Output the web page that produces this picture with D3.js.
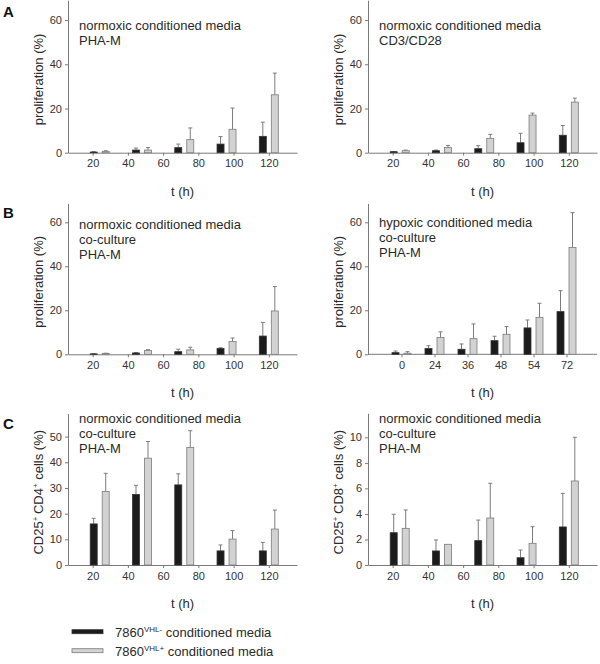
<!DOCTYPE html>
<html><head><meta charset="utf-8">
<script src="https://cdn.jsdelivr.net/npm/d3@7"></script>
<style>body{margin:0;background:#fff}svg{display:block;font-family:"Liberation Sans",Arial,sans-serif}</style>
</head><body><svg id="c" width="600" height="664"></svg>
<script>
// ---- data ----
const timesH = [24, 48, 72, 96, 120];
const xTicksH = [20, 40, 60, 80, 100, 120];
const hypoxCats = ["0", "24", "36", "48", "54", "72"];
const yTicksProlif = [0, 20, 40, 60];
const yTicksCD4 = [0, 10, 20, 30, 40, 50];
const yTicksCD8 = [0, 2, 4, 6, 8, 10];

const a1Neg = [0.3, 1.2, 2.3, 3.9, 7.4];
const a1NegErr = [0.2, 0.9, 1.6, 3.4, 6.4];
const a1Pos = [0.6, 1.2, 5.9, 10.6, 26.2];
const a1PosErr = [0.3, 1.1, 5.3, 9.6, 9.8];

const a2Neg = [0.45, 0.9, 1.8, 4.5, 7.9];
const a2NegErr = [0.1, 0.3, 1.4, 4.3, 4.4];
const a2Pos = [0.9, 2.4, 6.5, 17.0, 22.9];
const a2PosErr = [0.3, 0.9, 1.8, 0.9, 1.8];

const b1Neg = [0.2, 0.6, 1.2, 2.6, 8.3];
const b1NegErr = [0.1, 0.2, 1.1, 0.4, 6.2];
const b1Pos = [0.4, 1.7, 2.0, 5.8, 19.7];
const b1PosErr = [0.1, 0.4, 1.2, 1.6, 11.1];

const b2Neg = [0.75, 2.6, 2.3, 6.2, 12.0, 19.4];
const b2NegErr = [0.75, 1.3, 2.4, 2.0, 3.6, 9.5];
const b2Pos = [0.5, 7.6, 7.1, 9.1, 16.8, 48.6];
const b2PosErr = [0.7, 2.6, 6.7, 3.5, 6.4, 15.8];

const c1Neg = [16.0, 27.5, 31.2, 5.5, 5.5];
const c1NegErr = [2.2, 3.5, 4.3, 2.3, 3.3];
const c1Pos = [28.6, 41.6, 45.8, 10.1, 14.0];
const c1PosErr = [7.1, 6.5, 6.5, 3.3, 7.4];

const c2Neg = [2.53, 1.10, 1.91, 0.57, 2.98];
const c2NegErr = [1.44, 0.86, 1.61, 0.6, 2.63];
const c2Pos = [2.87, 1.62, 3.68, 1.70, 6.58];
const c2PosErr = [1.44, 0, 2.72, 1.3, 3.42];

const legendLabels = [["7860", "VHL-", " conditioned media"], ["7860", "VHL+", " conditioned media"]];

// ---- drawing ----
const svg = d3.select("#c");
const NEG_FILL = "#1b1b1b", NEG_STROKE = "#333", POS_FILL = "#d2d2d2", POS_STROKE = "#7c7c7c";
const AXIS_COL = "#7a7a7a", ERR_COL = "#7c7c7c", TXT = "#2a2a2a";

function richText(sel, parts) {
  // parts: [text, isSuperscript]
  let raised = false;
  parts.forEach(([s, sup]) => {
    const ts = sel.append("tspan").text(s);
    if (sup && !raised) { ts.attr("dy", -5).style("font-size", "8px"); raised = true; }
    else if (sup) { ts.style("font-size", "8px"); }
    else if (raised) { ts.attr("dy", 5); raised = false; }
  });
}

function panel(o) {
  const g = svg.append("g");
  const y = d3.scaleLinear().domain([0, o.yMax]).range([o.y0, o.yTop]);
  let x, xs;
  if (o.cats) {
    x = d3.scalePoint().domain(o.cats).range([o.x0 + 33.5, o.x1 - 30.5]);
    xs = o.cats;
  } else {
    x = d3.scaleLinear().domain([6, 136]).range([o.x0, o.x1]);
    xs = timesH;
  }
  const ya = g.append("g").attr("transform", `translate(${o.x0},0)`)
    .call(d3.axisLeft(y).tickValues(o.yTicks).tickSize(3).tickSizeOuter(0).tickPadding(3));
  const xa = g.append("g").attr("transform", `translate(0,${o.y0})`)
    .call((o.cats ? d3.axisBottom(x) : d3.axisBottom(x).tickValues(xTicksH)).tickSize(3).tickSizeOuter(0).tickPadding(4));
  if (o.cats) xa.select(".domain").attr("d", `M${o.x0},0H${o.x1}`);
  [ya, xa].forEach(a => {
    a.select(".domain").attr("stroke", AXIS_COL);
    a.selectAll(".tick line").attr("stroke", AXIS_COL);
    a.selectAll(".tick text").attr("fill", "#333").style("font-size", "11px").style("font-family", "Liberation Sans, Arial, sans-serif");
  });
  const bw = 7, off = 6;
  const series = [[o.neg, o.negErr, -off, NEG_FILL, NEG_STROKE], [o.pos, o.posErr, off, POS_FILL, POS_STROKE]];
  series.forEach(([vals, errs, dx, fill, stroke]) => {
    vals.forEach((v, i) => {
      const cx = x(xs[i]) + dx;
      const top = y(v);
      const et = y(v + errs[i]);
      if (errs[i] > 0) {
        g.append("line").attr("x1", cx).attr("x2", cx).attr("y1", top).attr("y2", et).attr("stroke", ERR_COL).attr("stroke-width", 1);
        g.append("line").attr("x1", cx - 2).attr("x2", cx + 2).attr("y1", et).attr("y2", et).attr("stroke", ERR_COL).attr("stroke-width", 1);
      }
      g.append("rect").attr("x", cx - bw / 2).attr("y", top).attr("width", bw).attr("height", Math.max(0.01, o.y0 - top))
        .attr("fill", fill).attr("stroke", stroke).attr("stroke-width", 0.8);
    });
  });
  const t = g.append("text").attr("fill", TXT).style("font-size", "13px");
  o.lines.forEach((l, i) => t.append("tspan").attr("x", o.x0 + 11).attr("y", o.textY + i * 15).text(l));
  const yl = g.append("text").attr("fill", TXT).style("font-size", "13px").attr("text-anchor", "middle")
    .attr("transform", `translate(${o.x0 - 25},${(o.y0 + o.yTop) / 2 + 3}) rotate(-90)`);
  richText(yl, o.ylabel);
  g.append("text").attr("fill", TXT).style("font-size", "13px").attr("text-anchor", "middle")
    .attr("x", (o.x0 + o.x1) / 2).attr("y", o.y0 + 43).text("t (h)");
}

const prolif = [["proliferation (%)", false]];
panel({x0: 68, x1: 297, y0: 152.7, yTop: 0.2, yMax: 69, yTicks: yTicksProlif, neg: a1Neg, negErr: a1NegErr, pos: a1Pos, posErr: a1PosErr,
  lines: ["normoxic conditioned media", "PHA-M"], textY: 30, ylabel: prolif});
panel({x0: 368, x1: 597, y0: 152.7, yTop: 0.2, yMax: 69, yTicks: yTicksProlif, neg: a2Neg, negErr: a2NegErr, pos: a2Pos, posErr: a2PosErr,
  lines: ["normoxic conditioned media", "CD3/CD28"], textY: 30, ylabel: prolif});
panel({x0: 68, x1: 297, y0: 354.3, yTop: 203.4, yMax: 68.6, yTicks: yTicksProlif, neg: b1Neg, negErr: b1NegErr, pos: b1Pos, posErr: b1PosErr,
  lines: ["normoxic conditioned media", "co-culture", "PHA-M"], textY: 229, ylabel: prolif});
panel({x0: 368, x1: 597, y0: 354.3, yTop: 203.4, yMax: 68.6, yTicks: yTicksProlif, cats: hypoxCats, neg: b2Neg, negErr: b2NegErr, pos: b2Pos, posErr: b2PosErr,
  lines: ["hypoxic conditioned media", "co-culture", "PHA-M"], textY: 227, ylabel: prolif});
panel({x0: 68, x1: 297, y0: 565, yTop: 413.5, yMax: 59, yTicks: yTicksCD4, neg: c1Neg, negErr: c1NegErr, pos: c1Pos, posErr: c1PosErr,
  lines: ["normoxic conditioned media", "co-culture", "PHA-M"], textY: 423,
  ylabel: [["CD25", false], ["+", true], ["\u2009CD4", false], ["+", true], [" cells (%)", false]]});
panel({x0: 368, x1: 597, y0: 565, yTop: 413.3, yMax: 11.88, yTicks: yTicksCD8, neg: c2Neg, negErr: c2NegErr, pos: c2Pos, posErr: c2PosErr,
  lines: ["normoxic conditioned media", "co-culture", "PHA-M"], textY: 423,
  ylabel: [["CD25", false], ["+", true], ["\u2009CD8", false], ["+", true], [" cells (%)", false]]});

[["A", 17], ["B", 218], ["C", 429]].forEach(([l, yy]) =>
  svg.append("text").attr("x", 3).attr("y", yy).style("font-size", "15px").style("font-weight", "bold").attr("fill", "#111").text(l));

legendLabels.forEach((parts, i) => {
  const yy = 631.7 + i * 19;
  svg.append("rect").attr("x", 72).attr("y", yy - 2).attr("width", 31).attr("height", 4)
    .attr("fill", i ? POS_FILL : NEG_FILL).attr("stroke", i ? POS_STROKE : NEG_STROKE).attr("stroke-width", 0.8);
  const t = svg.append("text").attr("x", 115).attr("y", yy + 5).attr("fill", TXT).style("font-size", "13px");
  richText(t, [[parts[0], false], [parts[1], true], [parts[2], false]]);
});
</script></body></html>
